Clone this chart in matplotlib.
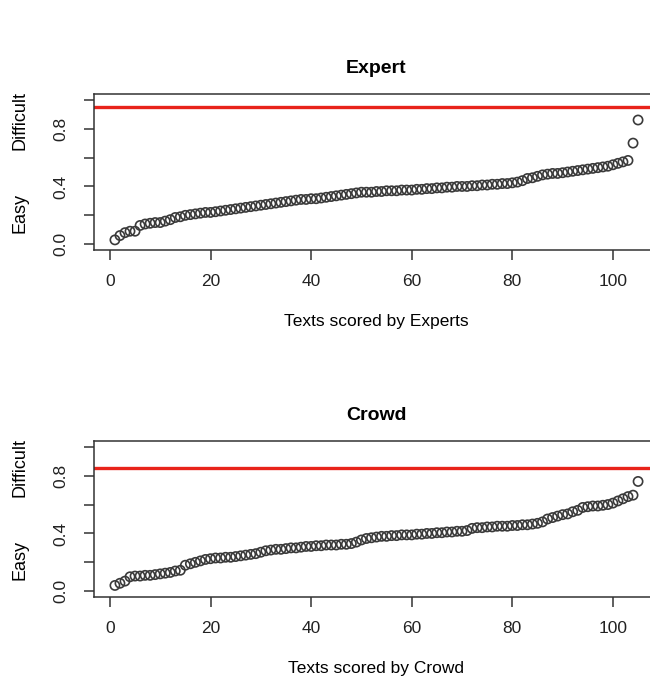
"""
plot.py — Expert vs Crowd difficulty scores
Two stacked R-style index plots of sorted text difficulty scores,
each with a red threshold line.
"""

import numpy as np

import matplotlib
matplotlib.use('Agg')
import matplotlib.pyplot as plt

# ── Data ──────────────────────────────────────────────────────────────
expert_scores = [
    0.03, 0.06, 0.08, 0.09, 0.09, 0.13, 0.14, 0.145, 0.15, 0.15,
    0.16, 0.17, 0.185, 0.19, 0.20, 0.205, 0.21, 0.215, 0.22, 0.22,
    0.225, 0.23, 0.235, 0.24, 0.245, 0.25, 0.255, 0.26, 0.265, 0.27,
    0.275, 0.28, 0.285, 0.29, 0.295, 0.30, 0.305, 0.31, 0.31, 0.315,
    0.315, 0.32, 0.325, 0.33, 0.335, 0.34, 0.345, 0.35, 0.355, 0.36,
    0.36, 0.36, 0.365, 0.365, 0.37, 0.37, 0.37, 0.375, 0.375, 0.375,
    0.38, 0.38, 0.385, 0.385, 0.39, 0.39, 0.395, 0.395, 0.40, 0.40,
    0.40, 0.405, 0.405, 0.41, 0.41, 0.415, 0.415, 0.42, 0.42, 0.425,
    0.43, 0.44, 0.455, 0.46, 0.47, 0.48, 0.485, 0.49, 0.49, 0.495,
    0.50, 0.505, 0.51, 0.515, 0.52, 0.525, 0.53, 0.535, 0.54, 0.55,
    0.56, 0.57, 0.58, 0.70, 0.86,
]
crowd_scores = [
    0.04, 0.055, 0.07, 0.10, 0.105, 0.105, 0.11, 0.11, 0.115, 0.12,
    0.125, 0.13, 0.14, 0.145, 0.18, 0.19, 0.20, 0.21, 0.22, 0.225,
    0.23, 0.23, 0.235, 0.235, 0.24, 0.245, 0.25, 0.255, 0.26, 0.27,
    0.28, 0.285, 0.29, 0.29, 0.295, 0.30, 0.30, 0.305, 0.31, 0.31,
    0.315, 0.315, 0.32, 0.32, 0.32, 0.325, 0.325, 0.33, 0.34, 0.355,
    0.365, 0.37, 0.375, 0.38, 0.38, 0.385, 0.385, 0.39, 0.39, 0.39,
    0.395, 0.395, 0.40, 0.40, 0.405, 0.405, 0.41, 0.41, 0.415, 0.415,
    0.42, 0.435, 0.44, 0.44, 0.445, 0.445, 0.45, 0.45, 0.45, 0.455,
    0.455, 0.46, 0.46, 0.465, 0.47, 0.48, 0.50, 0.51, 0.52, 0.53,
    0.535, 0.55, 0.56, 0.58, 0.585, 0.59, 0.59, 0.595, 0.60, 0.61,
    0.625, 0.64, 0.655, 0.665, 0.76,
]
thresholds = {'Expert': 0.95, 'Crowd': 0.85}
panel_titles = ['Expert', 'Crowd']
x_labels = ['Texts scored by Experts', 'Texts scored by Crowd']
x_ticks = [0, 20, 40, 60, 80, 100]
y_ticks = [0.0, 0.2, 0.4, 0.6, 0.8, 1.0]
y_tick_labels = ['0.0', '', '0.4', '', '0.8', '']

plt.rcParams['font.family'] = ['Liberation Sans', 'DejaVu Sans']

# ── Figure ────────────────────────────────────────────────────────────
W, H = 650, 681
fig = plt.figure(figsize=(W / 100, H / 100), dpi=100)
fig.patch.set_facecolor('white')

# axes boxes in pixels: (left, top, right, bottom); right runs past the canvas
boxes = [(94, 94, 659, 250), (94, 441, 659, 597)]

for scores, title, xlab, box in zip([expert_scores, crowd_scores],
                                    panel_titles, x_labels, boxes):
    l, t, r, b = box
    ax = fig.add_axes([l / W, 1 - b / H, (r - l) / W, (b - t) / H])
    n = len(scores)
    idx = np.arange(1, n + 1)

    # R-like 4% padding around data range
    pad_x = (n - 1) * 0.04
    ax.set_xlim(1 - pad_x, n + pad_x)
    ax.set_ylim(-0.04, 1.04)

    ax.axhline(thresholds[title], color='#e8231a', lw=2.4, zorder=2)
    ax.scatter(idx, scores, s=44, facecolors='none', edgecolors='#3a3a3a',
               linewidths=1.2, zorder=3)

    for sp in ax.spines.values():
        sp.set_color('#333333')
        sp.set_linewidth(1.1)

    ax.set_xticks(x_ticks)
    ax.set_xticklabels([str(v) for v in x_ticks])
    ax.set_yticks(y_ticks)
    ax.set_yticklabels(y_tick_labels, rotation=90, va='center')
    ax.tick_params(direction='out', length=7.5, width=1.1, color='#333333',
                   labelsize=12.5, labelcolor='#222222')
    ax.tick_params(axis='x', pad=10)
    ax.tick_params(axis='y', pad=11)

    ax.set_title(title, fontsize=14, fontweight='bold', pad=15)
    ax.set_xlabel(xlab, fontsize=12.5, labelpad=18)

    # R-style y label split into two words
    ax.text(-0.131, 0.24, 'Easy', transform=ax.transAxes, rotation=90,
            ha='center', va='center', fontsize=13)
    ax.text(-0.131, 0.83, 'Difficult', transform=ax.transAxes, rotation=90,
            ha='center', va='center', fontsize=13)

fig.savefig('out.png', dpi=100, facecolor='white')
plt.close(fig)
